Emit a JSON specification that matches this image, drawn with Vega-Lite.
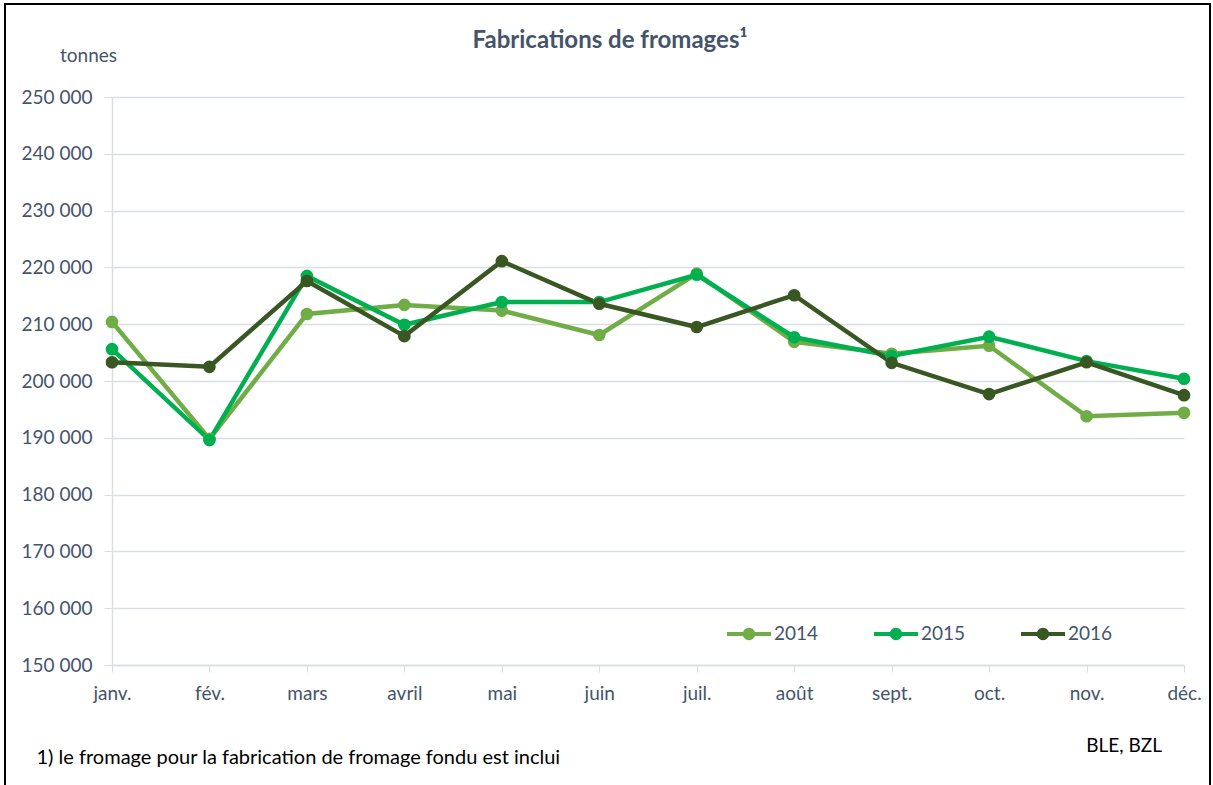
{
  "$schema": "https://vega.github.io/schema/vega-lite/v6.json",
  "width": 1072,
  "height": 568,
  "autosize": "none",
  "padding": {"left": 112, "top": 97, "right": 29, "bottom": 120},
  "background": "white",
  "config": {
    "locale": {"number": {"decimal": ",", "thousands": " ", "grouping": [3], "currency": ["", " €"]}},
    "font": "Lato",
    "view": {"stroke": null}
  },
  "title": {
    "text": "Fabrications de fromages¹",
    "anchor": "middle",
    "dx": -38,
    "offset": -50,
    "fontSize": 24,
    "fontWeight": "bold",
    "color": "#44546A",
    "font": "Lato"
  },
  "data": {
    "values": [
      {"mois": "janv.", "annee": "2014", "tonnes": 210400},
      {"mois": "fév.", "annee": "2014", "tonnes": 189800},
      {"mois": "mars", "annee": "2014", "tonnes": 211800},
      {"mois": "avril", "annee": "2014", "tonnes": 213400},
      {"mois": "mai", "annee": "2014", "tonnes": 212400},
      {"mois": "juin", "annee": "2014", "tonnes": 208100},
      {"mois": "juil.", "annee": "2014", "tonnes": 218900},
      {"mois": "août", "annee": "2014", "tonnes": 206900},
      {"mois": "sept.", "annee": "2014", "tonnes": 204800},
      {"mois": "oct.", "annee": "2014", "tonnes": 206200},
      {"mois": "nov.", "annee": "2014", "tonnes": 193800},
      {"mois": "déc.", "annee": "2014", "tonnes": 194400},
      {"mois": "janv.", "annee": "2015", "tonnes": 205600},
      {"mois": "fév.", "annee": "2015", "tonnes": 189600},
      {"mois": "mars", "annee": "2015", "tonnes": 218500},
      {"mois": "avril", "annee": "2015", "tonnes": 209900},
      {"mois": "mai", "annee": "2015", "tonnes": 213900},
      {"mois": "juin", "annee": "2015", "tonnes": 213900},
      {"mois": "juil.", "annee": "2015", "tonnes": 218700},
      {"mois": "août", "annee": "2015", "tonnes": 207700},
      {"mois": "sept.", "annee": "2015", "tonnes": 204400},
      {"mois": "oct.", "annee": "2015", "tonnes": 207800},
      {"mois": "nov.", "annee": "2015", "tonnes": 203500},
      {"mois": "déc.", "annee": "2015", "tonnes": 200400},
      {"mois": "janv.", "annee": "2016", "tonnes": 203300},
      {"mois": "fév.", "annee": "2016", "tonnes": 202500},
      {"mois": "mars", "annee": "2016", "tonnes": 217600},
      {"mois": "avril", "annee": "2016", "tonnes": 207900},
      {"mois": "mai", "annee": "2016", "tonnes": 221100},
      {"mois": "juin", "annee": "2016", "tonnes": 213600},
      {"mois": "juil.", "annee": "2016", "tonnes": 209500},
      {"mois": "août", "annee": "2016", "tonnes": 215100},
      {"mois": "sept.", "annee": "2016", "tonnes": 203200},
      {"mois": "oct.", "annee": "2016", "tonnes": 197700},
      {"mois": "nov.", "annee": "2016", "tonnes": 203300},
      {"mois": "déc.", "annee": "2016", "tonnes": 197500}
    ]
  },
  "layer": [
    {
      "data": {"values": [{"b": 1}]},
      "mark": {"type": "rect", "fill": null, "stroke": "#000000", "strokeWidth": 2, "clip": false},
      "encoding": {
        "x": {"value": -107},
        "x2": {"value": 1098},
        "y": {"value": -93},
        "y2": {"value": 700}
      }
    },
    {
      "mark": {"type": "line", "strokeWidth": 4.5, "point": {"size": 160, "filled": true, "opacity": 1}},
      "encoding": {
        "x": {
          "field": "mois",
          "type": "ordinal",
          "sort": ["janv.", "fév.", "mars", "avril", "mai", "juin", "juil.", "août", "sept.", "oct.", "nov.", "déc."],
          "scale": {"type": "point", "padding": 0},
          "axis": {
            "title": "1) le fromage pour la fabrication de fromage fondu est inclui",
            "titleX": -76,
            "titleY": 98,
            "titleAlign": "left",
            "titleAnchor": null,
            "titleBaseline": "alphabetic",
            "titleFont": "Lato",
            "titleFontSize": 20,
            "titleFontWeight": "normal",
            "titleColor": "#000000",
            "labelAngle": 0,
            "labelFontSize": 19,
            "labelColor": "#44546A",
            "labelPadding": 12,
            "domainColor": "#D9DDE4",
            "domainWidth": 1.5,
            "tickColor": "#D9DDE4",
            "tickSize": 7,
            "grid": false
          }
        },
        "y": {
          "field": "tonnes",
          "type": "quantitative",
          "scale": {"domain": [150000, 250000], "nice": false, "zero": false},
          "axis": {
            "values": [150000, 160000, 170000, 180000, 190000, 200000, 210000, 220000, 230000, 240000, 250000],
            "format": ",d",
            "title": "tonnes",
            "titleAngle": 0,
            "titleX": -24,
            "titleY": -36,
            "titleAlign": "center",
            "titleBaseline": "alphabetic",
            "titleFont": "Lato",
            "titleFontSize": 19,
            "titleFontWeight": "normal",
            "titleColor": "#44546A",
            "labelFontSize": 19,
            "labelColor": "#44546A",
            "labelPadding": 12,
            "domainColor": "#D9DDE4",
            "domainWidth": 1.5,
            "tickColor": "#D9DDE4",
            "tickSize": 8,
            "gridColor": "#D9DDE4",
            "gridWidth": 1.5
          }
        },
        "color": {
          "field": "annee",
          "type": "nominal",
          "scale": {"domain": ["2014", "2015", "2016"], "range": ["#70AD47", "#00B050", "#385723"]},
          "legend": {
            "title": null,
            "orient": "none",
            "legendX": 615,
            "legendY": 515,
            "direction": "horizontal",
            "symbolType": "M-1,-0.09L1,-0.09L1,0.09L-1,0.09Z M0.28,0A0.28,0.28 0 1,1 -0.28,0A0.28,0.28 0 1,1 0.28,0Z",
            "symbolSize": 1936,
            "symbolStrokeWidth": 0,
            "labelFontSize": 19,
            "labelColor": "#44546A",
            "labelOffset": 3,
            "columnPadding": 55
          }
        }
      }
    },
    {
      "data": {"values": [{"mois": "déc.", "tonnes": 150000, "source": "BLE, BZL"}]},
      "mark": {"type": "text", "align": "right", "baseline": "alphabetic", "dx": -22, "dy": 87, "fontSize": 19, "color": "#000000", "font": "Lato"},
      "encoding": {
        "x": {
          "field": "mois",
          "type": "ordinal",
          "sort": ["janv.", "fév.", "mars", "avril", "mai", "juin", "juil.", "août", "sept.", "oct.", "nov.", "déc."]
        },
        "y": {"field": "tonnes", "type": "quantitative"},
        "text": {"field": "source"}
      }
    }
  ]
}
